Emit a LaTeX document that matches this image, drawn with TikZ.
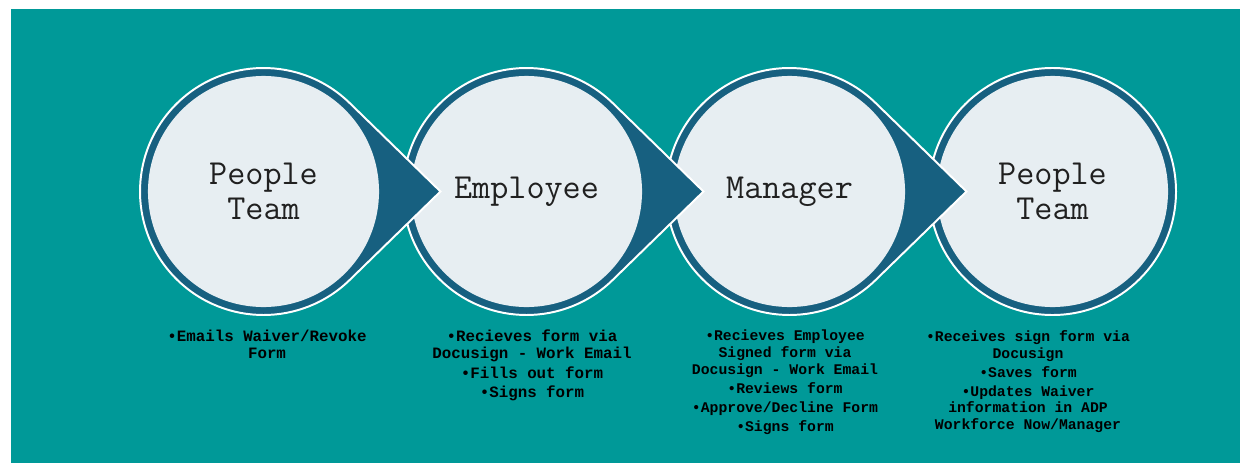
\documentclass[tikz,border=0pt]{standalone}
\usepackage{fontspec}
\newfontfamily\notefont{Liberation Mono}
\usepackage{tikz}
\usetikzlibrary{calc}
\definecolor{bgteal}{RGB}{0,153,152}
\definecolor{ringblue}{RGB}{23,96,128}
\definecolor{discgray}{RGB}{231,238,242}
\definecolor{inkgray}{RGB}{32,32,32}
\tikzstyle{drop} = [fill=ringblue, draw=white, line width=1.4pt]
\tikzstyle{disc} = [circle, fill=discgray, 
	minimum size=5.775cm, inner sep=0pt,
	align=center, text=inkgray,
	font=\ttfamily\fontsize{25}{25}\selectfont]
\tikzstyle{notes} = [anchor=north, align=center, inner sep=0pt,
	font=\notefont\bfseries\fontsize{10.5}{12}\selectfont]
\tikzstyle{bignotes} = [notes, font=\notefont\bfseries\fontsize{11.25}{12}\selectfont]
\newcommand{\drawstep}[3]{
	\draw[drop] #2 ++(45.8:123.5) arc[start angle=45.8, end angle=314.2, radius=123.5]
	-- ($ #2 + (177,0) $) -- cycle;
	\node (#1) [disc] at #2 {#3}}

\begin{document}
\begin{tikzpicture}[x=0.025cm, y=0.025cm]
			\useasboundingbox (0,0) rectangle (1240,463);
			\fill [white] (0,0) rectangle (1240,463);
			\fill [bgteal] (11,0) rectangle (1240,454);
			
			% last step has no tip, so it goes first
			\draw [drop] (1052.5,271.5) circle (123.5);
			\node (team2) [disc] at (1052.5,271.5) {People\\Team};
			\drawstep{mgr}{(789.5,271.5)}{Manager};
			\drawstep{emp}{(526.5,271.5)}{Employee};
			\drawstep{team1}{(263.5,271.5)}{People\\Team};
			
			\node (note1) [bignotes] at (267,133) {•Emails Waiver/Revoke\\Form};
			\node (note2) [bignotes] at (532,133) {•Recieves form via\\Docusign - Work Email\\[2pt]•Fills out form\\[1.5pt]•Signs form};
			\node (note3) [notes] at (785,133) {•Recieves Employee\\Signed form via\\Docusign - Work Email\\[1.5pt]•Reviews form\\[1.5pt]•Approve/Decline Form\\[1.5pt]•Signs form};
			\node (note4) [notes] at (1028,133) {•Receives sign form via\\Docusign\\[1.5pt]•Saves form\\[1.5pt]•Updates Waiver\\information in ADP\\Workforce Now/Manager};
			
		\end{tikzpicture}
\end{document}
